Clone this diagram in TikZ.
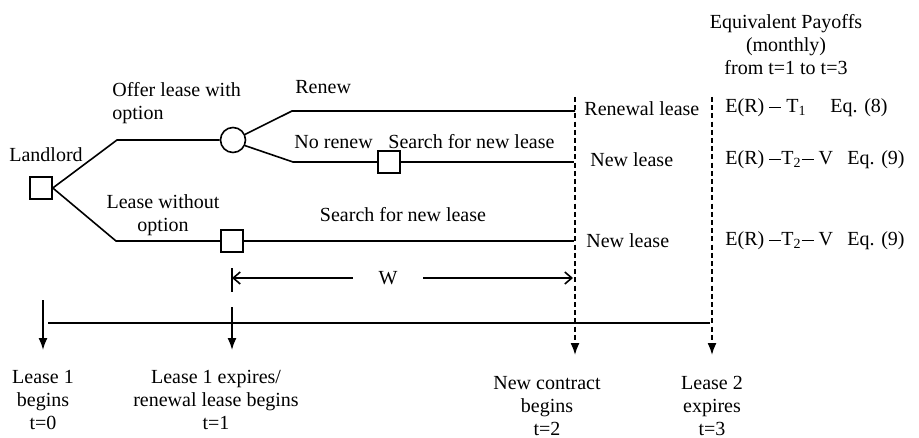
\documentclass[tikz,border=0pt]{standalone}
\usepackage{fontspec}
\setmainfont{Liberation Serif}
\usetikzlibrary{arrows,arrows.meta}
\newcommand{\mn}{\raisebox{2.4pt}{\rule{6pt}{0.5pt}}}

\begin{document}
\begin{tikzpicture}[x=0.5pt,y=-0.5pt,
  every node/.style={font=\fontsize{10}{11.5}\selectfont, inner sep=0pt},
  dec/.style={draw, line width=0.8pt, minimum size=11pt},
  chance/.style={draw, circle, line width=0.8pt, minimum size=12.5pt},
  ln/.style={line width=0.8pt},
  dsh/.style={line width=0.8pt, dash pattern=on 2.5pt off 1.6pt},
  down/.style={-{Latex[length=6pt,width=4.5pt]}},
  wtip/.style={-{Straight Barb[length=3.5pt,width=6pt]}}]
\useasboundingbox (0,0) rectangle (919,438);
% дерево
\node [dec] (land) at (41,188) {};
\node (landlbl) at (46,155) {Landlord};
\coordinate (up) at (117,140);
\coordinate (lo) at (116,241);
\node [chance] (opt) at (233,140) {};
\node [dec] (nopt) at (232,241) {};
\draw [ln] (land.east) -- (up) -- (opt.west);
\draw [ln] (land.east) -- (lo) -- (nopt.west);
% ветви после опциона
\coordinate (rn) at (292,111);
\coordinate (rnend) at (575,111);
\coordinate (nr) at (293,162);
\coordinate (nrend) at (574,162);
\coordinate (loend) at (574,241);
\node [dec] (srch) at (389,162) {};
\draw [ln] (opt.25) -- (rn) -- (rnend);
\draw [ln] (opt.-25) -- (nr) -- (srch.west);
\draw [ln] (srch.east) -- (nrend);
\draw [ln] (nopt.east) -- (loend);
% подписи ветвей
\node [anchor=west, align=left] (offer) at (112,103) {Offer lease with\\option};
\node [align=center] (without) at (163,215) {Lease without\\option};
\node [anchor=west] (renew) at (295,87) {Renew};
\node [anchor=west] (norenew) at (294,142) {No renew};
\node [anchor=west] (search1) at (388,142) {Search for new lease};
\node (search2) at (403,215) {Search for new lease};
% исходы
\node [anchor=west] (out1) at (584,109) {Renewal lease};
\node [anchor=west] (out2) at (590,160) {New lease};
\node [anchor=west] (out3) at (586,241) {New lease};
\node [align=center] (head) at (786,45) {Equivalent Payoffs\\(monthly)\\from t=1 to t=3};
\node [anchor=west] (pay1) at (725,108) {E(R) \mn\ T\textsubscript{1}};
\node [anchor=west] (eq1) at (830,108) {Eq. (8)};
\node [anchor=west] (pay2) at (725,160) {E(R) \mn T\textsubscript{2}\mn\ V};
\node [anchor=west] (eq2) at (847,160) {Eq. (9)};
\node [anchor=west] (pay3) at (725,241) {E(R) \mn T\textsubscript{2}\mn\ V};
\node [anchor=west] (eq3) at (847,241) {Eq. (9)};
% пунктир
\coordinate (d1top) at (575,97);
\coordinate (d1bot) at (575,355);
\coordinate (d2top) at (712,97);
\coordinate (d2bot) at (712,355);
\draw [dsh, down] (d1top) -- (d1bot);
\draw [dsh, down] (d2top) -- (d2bot);
% W
\coordinate (wbar1) at (232,268);
\coordinate (wbar2) at (232,292);
\coordinate (wleft) at (232,278);
\coordinate (wright) at (573,278);
\node [minimum width=35pt] (w) at (388,278) {W};
\draw [ln] (wbar1) -- (wbar2);
\draw [ln, wtip] (w.west) -- (wleft);
\draw [ln, wtip] (w.east) -- (wright);
% ось времени
\coordinate (tl1) at (48,323);
\coordinate (tl2) at (710,323);
\draw [ln] (tl1) -- (tl2);
\coordinate (a0top) at (43,300);
\coordinate (a0bot) at (43,350);
\coordinate (a1top) at (232,307);
\coordinate (a1bot) at (232,350);
\draw [ln, down] (a0top) -- (a0bot);
\draw [ln, down] (a1top) -- (a1bot);
% подписи моментов
\node [align=center] (t0) at (43,400) {Lease 1\\begins\\t=0};
\node [align=center] (t1) at (216,400) {Lease 1 expires/\\renewal lease begins\\t=1};
\node [align=center] (t2) at (547,406) {New contract\\begins\\t=2};
\node [align=center] (t3) at (712,406) {Lease 2\\expires\\t=3};
\end{tikzpicture}
\end{document}
